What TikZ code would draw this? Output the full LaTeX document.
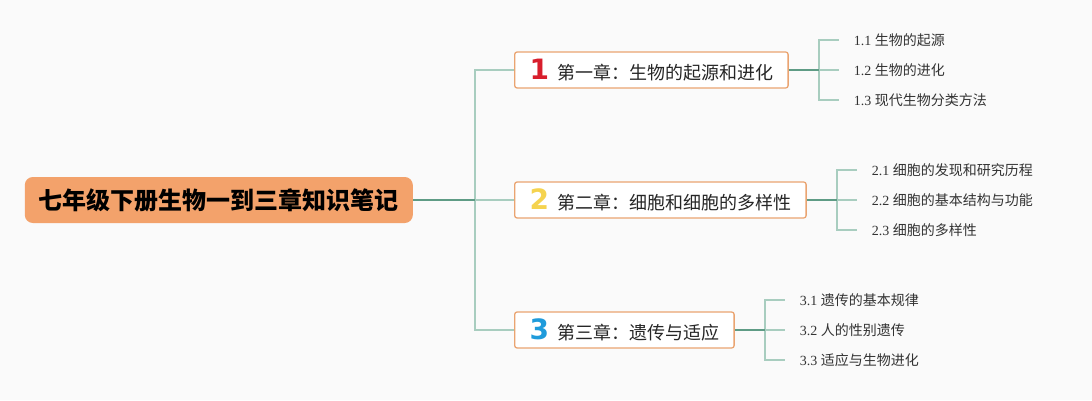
\documentclass[tikz,border=0pt]{standalone}
\usepackage{fontspec}
\setmainfont{Liberation Serif}
\newfontfamily\cjk{Noto Sans CJK SC}
\newfontfamily\badgefont{DejaVu Sans}
\usetikzlibrary{positioning}
\definecolor{bgcol}{HTML}{FAFAFA}
\definecolor{rootfill}{HTML}{F3A26B}
\definecolor{boxline}{HTML}{EAA471}
\definecolor{stemcol}{HTML}{5E9B85}
\definecolor{twigcol}{HTML}{A8CDBF}
\definecolor{badgered}{HTML}{D81E2C}
\definecolor{badgeyellow}{HTML}{F5D34F}
\definecolor{badgeblue}{HTML}{1F9BDB}
\newcommand\badge[2]{{\badgefont\bfseries\fontsize{28}{28}\selectfont\color{#1}#2}\hspace{8pt}}

\begin{document}
\begin{tikzpicture}[x=1pt,y=1pt,
	root/.style={fill=rootfill,rounded corners=8pt,minimum height=46pt,inner xsep=14pt,
		font=\cjk\bfseries\fontsize{24}{27}\selectfont,text=black},
	chapter/.style={draw=boxline,fill=white,line width=1.3pt,rounded corners=2.5pt,
		minimum height=36pt,inner xsep=15pt,font=\cjk\fontsize{18}{20}\selectfont,text=black!85},
	leaf/.style={inner xsep=15pt,inner ysep=0pt,font=\fontsize{14}{16}\selectfont,text=black!80},
	stem/.style={draw=stemcol,line width=1.5pt},
	twig/.style={draw=twigcol,line width=1.5pt}]
	\useasboundingbox[fill=bgcol] (0,0) rectangle (1092,400);
	
	\node[chapter,anchor=west] (c2) at (514,200) {\badge{badgeyellow}{2}第二章：细胞和细胞的多样性};
	\node[chapter,anchor=west] (c1) [above=130pt of c2.west,anchor=west] {\badge{badgered}{1}第一章：生物的起源和进化};
	\node[chapter,anchor=west] (c3) [below=130pt of c2.west,anchor=west] {\badge{badgeblue}{3}第三章：遗传与适应};
	\node[root] (book) [left=101pt of c2] {七年级下册生物一到三章知识笔记};
	
	\node[leaf] (s12) [right=50pt of c1] {1.2 {\cjk 生物的进化}};
	\node[leaf] (s11) [right=50pt of c1,yshift=30pt] {1.1 {\cjk 生物的起源}};
	\node[leaf] (s13) [right=50pt of c1,yshift=-30pt] {1.3 {\cjk 现代生物分类方法}};
	\node[leaf] (s22) [right=50pt of c2] {2.2 {\cjk 细胞的基本结构与功能}};
	\node[leaf] (s21) [right=50pt of c2,yshift=30pt] {2.1 {\cjk 细胞的发现和研究历程}};
	\node[leaf] (s23) [right=50pt of c2,yshift=-30pt] {2.3 {\cjk 细胞的多样性}};
	\node[leaf] (s32) [right=50pt of c3] {3.2 {\cjk 人的性别遗传}};
	\node[leaf] (s31) [right=50pt of c3,yshift=30pt] {3.1 {\cjk 遗传的基本规律}};
	\node[leaf] (s33) [right=50pt of c3,yshift=-30pt] {3.3 {\cjk 适应与生物进化}};
	
	\coordinate[right=62pt of book] (k0);
	\coordinate[right=30pt of c1] (k1);
	\coordinate[right=30pt of c2] (k2);
	\coordinate[right=30pt of c3] (k3);
	
	% trunk
	\draw[twig] (c1) -| (k0) |- (c3);
	\draw[twig] (k0) -- (c2);
	\draw[stem] (book) -- (k0);
	% branches
	\draw[twig] (s11.west) -| (k1) |- (s13.west);
	\draw[twig] (k1) -- (s12.west);
	\draw[stem] (c1) -- (k1);
	\draw[twig] (s21.west) -| (k2) |- (s23.west);
	\draw[twig] (k2) -- (s22.west);
	\draw[stem] (c2) -- (k2);
	\draw[twig] (s31.west) -| (k3) |- (s33.west);
	\draw[twig] (k3) -- (s32.west);
	\draw[stem] (c3) -- (k3);
\end{tikzpicture}
\end{document}
